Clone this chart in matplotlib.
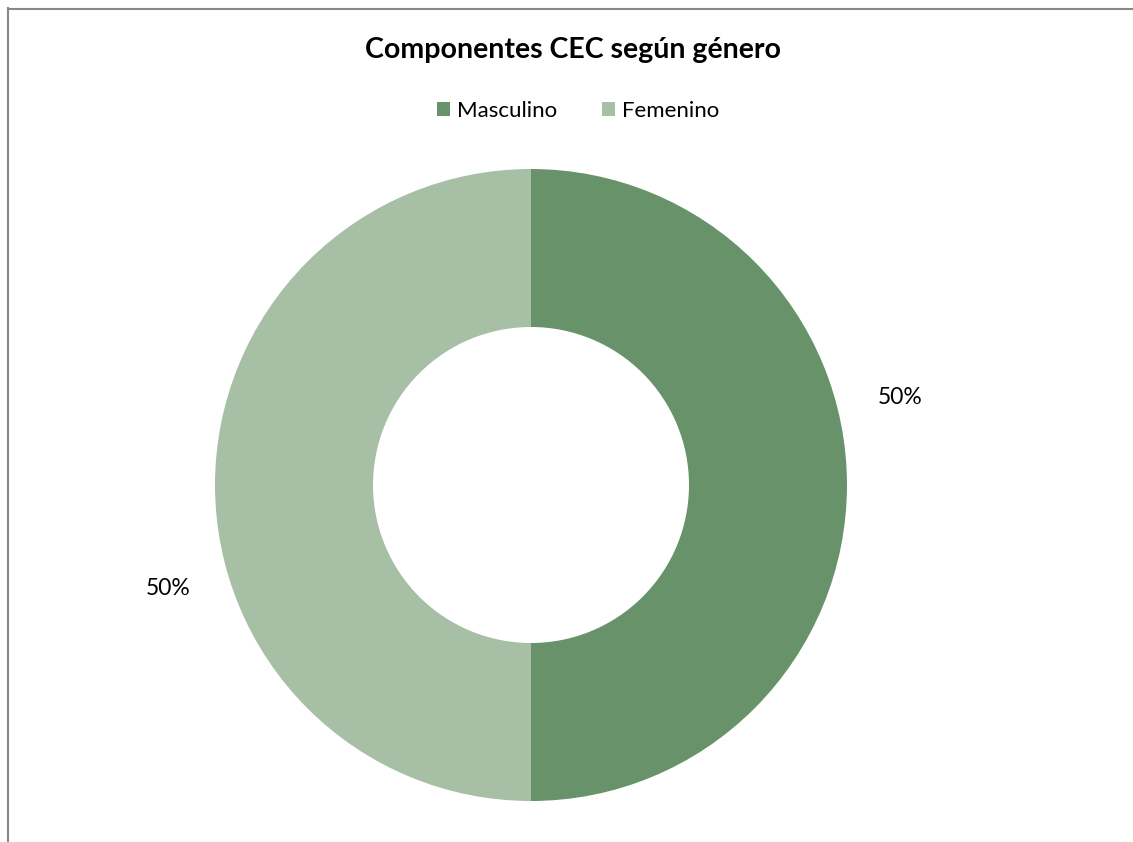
import matplotlib.pyplot as plt
from matplotlib.lines import Line2D

# data
categories = ['Masculino', 'Femenino']
values = [50, 50]
colors = ['#68936A', '#A7BFA5']

W, H = 1133, 842
plt.rcParams['font.family'] = ['Lato', 'DejaVu Sans']

fig = plt.figure(figsize=(W / 100, H / 100), dpi=100)

# donut: center (531, 485) px, outer radius 316 px
cx, cy, r = 531, 485, 316
ax = fig.add_axes([(cx - r) / W, (H - cy - r) / H, 2 * r / W, 2 * r / H])
wedges, _ = ax.pie(values, colors=colors, startangle=90, counterclock=False,
                   radius=1, wedgeprops=dict(width=0.5, edgecolor='none'))
ax.set_xlim(-1, 1)
ax.set_ylim(-1, 1)
ax.set_aspect('equal')

# percentage labels
ax.text(1.168, 0.278, '{}%'.format(values[0]), ha='center', va='center', fontsize=16.5)
ax.text(-1.148, -0.326, '{}%'.format(values[1]), ha='center', va='center', fontsize=16.5)

fig.text(573 / W, 1 - 50 / H, 'Componentes CEC según género', ha='center', va='center',
         fontsize=20.5, fontweight='bold')

fig.legend(wedges, categories, loc='center', bbox_to_anchor=(578 / W, 1 - 111 / H),
           ncol=2, frameon=False, fontsize=16, handlelength=0.6, handleheight=0.6,
           handletextpad=0.3, columnspacing=2.0)

# chart border (left and top)
fig.add_artist(Line2D([7.5 / W, 7.5 / W], [0, 1 - 8 / H], color='#888888', lw=1.5,
                      transform=fig.transFigure))
fig.add_artist(Line2D([7.5 / W, 1], [1 - 8.5 / H, 1 - 8.5 / H], color='#888888', lw=1.5,
                      transform=fig.transFigure))

fig.savefig('out.png', dpi=100)
